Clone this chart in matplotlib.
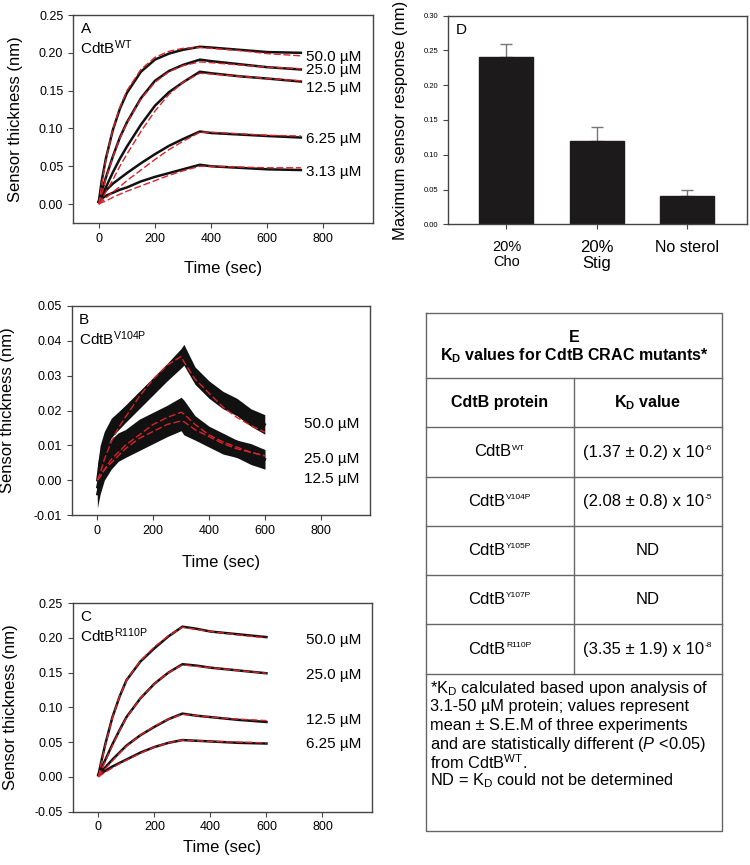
import matplotlib
matplotlib.use("Agg")
import matplotlib.pyplot as plt
from matplotlib.offsetbox import TextArea, HPacker, AnnotationBbox

plt.rcParams['font.family'] = ['Liberation Sans', 'DejaVu Sans']
plt.rcParams['mathtext.fontset'] = 'custom'
plt.rcParams['mathtext.rm'] = 'Liberation Sans'
plt.rcParams['mathtext.it'] = 'Liberation Sans:italic'
plt.rcParams['mathtext.bf'] = 'Liberation Sans:bold'

# ---- panel A: CdtB WT ----
tA = [0, 10, 25, 50, 75, 100, 150, 200, 250, 300, 360, 400, 500, 600, 720]
concA = ["50.0 µM", "25.0 µM", "12.5 µM", "6.25 µM", "3.13 µM"]
concA_y = [0.195, 0.177, 0.153, 0.086, 0.042]
traceA = [
    [0.003, 0.030, 0.060, 0.098, 0.126, 0.147, 0.175, 0.191, 0.199, 0.204, 0.208, 0.207, 0.204, 0.201, 0.200],
    [0.003, 0.016, 0.035, 0.063, 0.088, 0.108, 0.140, 0.163, 0.176, 0.184, 0.191, 0.189, 0.185, 0.181, 0.178],
    [0.003, 0.010, 0.022, 0.042, 0.060, 0.076, 0.105, 0.130, 0.148, 0.161, 0.175, 0.173, 0.169, 0.166, 0.162],
    [0.003, 0.010, 0.018, 0.027, 0.034, 0.041, 0.054, 0.066, 0.077, 0.086, 0.096, 0.094, 0.092, 0.090, 0.088],
    [0.003, 0.007, 0.011, 0.015, 0.019, 0.022, 0.030, 0.036, 0.041, 0.046, 0.052, 0.050, 0.048, 0.046, 0.045],
]
fitA = [
    [0.0, 0.025, 0.058, 0.099, 0.128, 0.150, 0.178, 0.194, 0.202, 0.206, 0.207, 0.206, 0.203, 0.199, 0.196],
    [0.0, 0.014, 0.033, 0.062, 0.087, 0.107, 0.139, 0.161, 0.175, 0.183, 0.188, 0.187, 0.184, 0.181, 0.179],
    [0.0, 0.006, 0.016, 0.032, 0.050, 0.066, 0.096, 0.123, 0.145, 0.161, 0.173, 0.172, 0.169, 0.166, 0.163],
    [0.0, 0.003, 0.008, 0.016, 0.023, 0.031, 0.045, 0.059, 0.072, 0.083, 0.095, 0.095, 0.093, 0.091, 0.090],
    [0.0, 0.002, 0.004, 0.009, 0.013, 0.017, 0.024, 0.031, 0.038, 0.044, 0.050, 0.050, 0.049, 0.048, 0.048],
]

# ---- panel B: CdtB V104P (noisy, drawn as centre + band) ----
tB = [0, 10, 25, 50, 75, 100, 150, 200, 250, 300, 310, 350, 400, 450, 500, 550, 600]
concB = ["50.0 µM", "25.0 µM", "12.5 µM"]
concB_y = [0.016, 0.006, 0.0003]
traceB = [
    [0.000, 0.006, 0.011, 0.015, 0.017, 0.019, 0.023, 0.027, 0.031, 0.035, 0.036, 0.030, 0.026, 0.023, 0.021, 0.018, 0.016],
    [-0.002, 0.002, 0.006, 0.009, 0.011, 0.012, 0.015, 0.017, 0.019, 0.021, 0.020, 0.016, 0.013, 0.011, 0.009, 0.008, 0.006],
    [-0.004, 0.000, 0.003, 0.006, 0.008, 0.009, 0.011, 0.013, 0.015, 0.017, 0.016, 0.014, 0.012, 0.010, 0.009, 0.007, 0.006],
]
noiseB = [0.004, 0.004, 0.003, 0.0028, 0.0026, 0.0025, 0.0025, 0.0025, 0.0025, 0.0028, 0.003, 0.0025, 0.0025, 0.0025, 0.0025, 0.0025, 0.0028]
fitB = [
    [0.0, 0.002, 0.006, 0.011, 0.015, 0.018, 0.024, 0.029, 0.033, 0.0355, 0.034, 0.029, 0.025, 0.021, 0.018, 0.0157, 0.0138],
    [0.0, 0.001, 0.003, 0.006, 0.008, 0.010, 0.013, 0.016, 0.018, 0.0195, 0.019, 0.016, 0.013, 0.011, 0.0095, 0.008, 0.007],
    [0.0, 0.001, 0.003, 0.005, 0.007, 0.009, 0.012, 0.014, 0.016, 0.017, 0.0168, 0.0145, 0.0125, 0.0105, 0.009, 0.008, 0.007],
]

# ---- panel C: CdtB R110P ----
tC = [0, 10, 25, 50, 75, 100, 150, 200, 250, 300, 350, 400, 500, 600]
concC = ["50.0 µM", "25.0 µM", "12.5 µM", "6.25 µM"]
concC_y = [0.197, 0.146, 0.082, 0.048]
traceC = [
    [0.003, 0.022, 0.048, 0.086, 0.115, 0.139, 0.166, 0.185, 0.202, 0.216, 0.213, 0.209, 0.205, 0.201],
    [0.003, 0.012, 0.025, 0.047, 0.067, 0.086, 0.113, 0.134, 0.150, 0.162, 0.160, 0.157, 0.153, 0.149],
    [0.003, 0.008, 0.014, 0.025, 0.035, 0.045, 0.060, 0.072, 0.083, 0.091, 0.088, 0.086, 0.082, 0.079],
    [0.002, 0.005, 0.009, 0.015, 0.020, 0.025, 0.035, 0.043, 0.049, 0.053, 0.052, 0.051, 0.049, 0.048],
]
fitC = [
    [0.0, 0.020, 0.046, 0.085, 0.115, 0.139, 0.167, 0.187, 0.203, 0.215, 0.212, 0.209, 0.204, 0.200],
    [0.0, 0.010, 0.023, 0.045, 0.066, 0.085, 0.113, 0.134, 0.150, 0.161, 0.159, 0.157, 0.153, 0.149],
    [0.0, 0.006, 0.012, 0.023, 0.034, 0.044, 0.060, 0.073, 0.083, 0.090, 0.088, 0.086, 0.083, 0.081],
    [0.0, 0.003, 0.007, 0.013, 0.019, 0.024, 0.034, 0.043, 0.049, 0.053, 0.052, 0.051, 0.050, 0.049],
]

# ---- panel D ----
sterols = ["20%\nCho", "20%\nStig", "No sterol"]
max_resp = [0.24, 0.12, 0.04]
max_err = [0.02, 0.02, 0.01]

# ---- table E ----
proteins = ["CdtB"] * 5
protein_sup = ["WT", "V104P", "Y105P", "Y107P", "R110P"]
kd_values = ["(1.37 ± 0.2) x 10", "(2.08 ± 0.8) x 10", "ND", "ND", "(3.35 ± 1.9) x 10"]
kd_sup = ["-6", "-5", "", "", "-8"]
footnote = [r"*K$_{\rm D}$ calculated based upon analysis of",
            "3.1-50 µM protein; values represent",
            "mean ± S.E.M of three experiments",
            r"and are statistically different ($P$ <0.05)",
            r"from CdtB$^{\rm WT}$.",
            r"ND = K$_{\rm D}$ could not be determined"]

W, H = 750, 865
RED = '#d8232a'
SPINE = '#444444'


def px_axes(fig, left, top, right, bottom):
    return fig.add_axes([left / W, 1 - bottom / H, (right - left) / W, (bottom - top) / H])


def style_axes(ax, tick_size):
    for s in ax.spines.values():
        s.set_color(SPINE)
        s.set_linewidth(1.0)
    ax.tick_params(direction='out', length=3.5, width=0.8, color=SPINE,
                   labelsize=tick_size, top=False, right=False)


def kinetics_panel(ax, t, traces, fits, labels, label_y, letter, mutant,
                   ylim, yticks, ylab_x, xlab_y):
    for tr in traces:
        ax.plot(t, tr, color='#111111', lw=1.8, solid_joinstyle='round')
    for ft in fits:
        ax.plot(t, ft, color=RED, lw=1.0, ls=(0, (5, 2)))
    for lab, y in zip(labels, label_y):
        ax.text(740, y, lab, fontsize=11, va='center', ha='left')
    ax.text(0.025, 0.965, letter, transform=ax.transAxes, fontsize=11, va='top')
    ax.text(0.025, 0.845, mutant, transform=ax.transAxes, fontsize=11, va='center')
    ax.set_xlim(-92, 977)
    ax.set_ylim(*ylim)
    ax.set_xticks([0, 200, 400, 600, 800])
    ax.set_yticks(yticks)
    ax.set_yticklabels(["%.2f" % v for v in yticks])
    style_axes(ax, 9)
    ax.set_ylabel("Sensor thickness (nm)", fontsize=12)
    ax.yaxis.set_label_coords(ylab_x, 0.5)
    ax.set_xlabel("Time (sec)", fontsize=12)
    ax.xaxis.set_label_coords(0.5, xlab_y)


def sup_text(ax, x, y, base, sup, fs, sfs):
    kids = [TextArea(base, textprops=dict(fontsize=fs))]
    if sup:
        kids.append(TextArea(sup, textprops=dict(fontsize=sfs)))
    box = HPacker(children=kids, align='top', pad=0, sep=0.5)
    ab = AnnotationBbox(box, (x, y), xycoords='data', frameon=False,
                        box_alignment=(0.5, 0.5), pad=0)
    ax.add_artist(ab)


fig = plt.figure(figsize=(W / 100, H / 100), dpi=100)

# A
axA = px_axes(fig, 73, 15, 373, 223)
kinetics_panel(axA, tA, traceA, fitA, concA, concA_y, "A", r"CdtB$^{\rm WT}$",
               (-0.025, 0.25), [0.0, 0.05, 0.10, 0.15, 0.20, 0.25], -0.167, -0.185)

# B
axB = px_axes(fig, 71.7, 306, 370, 515)
for tr in traceB:
    lo = [v - n for v, n in zip(tr, noiseB)]
    hi = [v + n for v, n in zip(tr, noiseB)]
    axB.fill_between(tB, lo, hi, color='#111111', lw=0)
kinetics_panel(axB, tB, traceB, fitB, concB, concB_y, "B", r"CdtB$^{\rm V104P}$",
               (-0.01, 0.05), [-0.01, 0.0, 0.01, 0.02, 0.03, 0.04, 0.05], -0.19, -0.19)

# C
axC = px_axes(fig, 72.7, 603, 372, 811.7)
kinetics_panel(axC, tC, traceC, fitC, concC, concC_y, "C", r"CdtB$^{\rm R110P}$",
               (-0.05, 0.25), [-0.05, 0.0, 0.05, 0.10, 0.15, 0.20, 0.25], -0.182, -0.137)

# D
axD = px_axes(fig, 448.3, 15.7, 746.7, 224.3)
xpos = list(range(len(sterols)))
axD.bar(xpos, max_resp, width=0.6, color='#1c1a1a', edgecolor='#1c1a1a', zorder=2)
axD.errorbar(xpos, max_resp, yerr=[[0] * len(max_err), max_err], fmt='none',
             ecolor='#777777', elinewidth=1.0, capsize=4, capthick=1.0, zorder=1)
axD.set_xlim(-0.645, 2.665)
axD.set_ylim(0, 0.30)
dticks = [0, 0.05, 0.10, 0.15, 0.20, 0.25, 0.30]
axD.set_yticks(dticks)
axD.set_yticklabels(["%.2f" % v for v in dticks])
axD.set_xticks(xpos)
axD.set_xticklabels([])
style_axes(axD, 5.5)
tick_fs = [10.5, 12, 11.5]
for x, lab, fs in zip(xpos, sterols, tick_fs):
    axD.text(x, -0.022, lab, fontsize=fs, ha='center', va='top', linespacing=1.1)
axD.text(0.025, 0.965, "D", transform=axD.transAxes, fontsize=11, va='top')
axD.set_ylabel("Maximum sensor response (nm)", fontsize=12)
axD.yaxis.set_label_coords(-0.134, 0.5)

# E: table drawn on a full-figure overlay in pixel coordinates
axE = fig.add_axes([0, 0, 1, 1])
axE.set_xlim(0, W)
axE.set_ylim(H, 0)
axE.axis('off')
tl, tr_, tt, tb = 426, 721.7, 312.7, 831
colx = 573.7
hlines = [378.3, 427.3, 476.7, 526, 575, 624.3, 674]
LC = '#666666'
axE.plot([tl, tr_, tr_, tl, tl], [tt, tt, tb, tb, tt], color=LC, lw=1.0)
for y in hlines:
    axE.plot([tl, tr_], [y, y], color=LC, lw=1.0)
axE.plot([colx, colx], [hlines[0], hlines[-1]], color=LC, lw=1.0)

cx = (tl + tr_) / 2
axE.text(cx, 337, "E", fontsize=11.5, fontweight='bold', ha='center', va='center')
axE.text(cx, 356, r"K$_{\mathbf{D}}$ values for CdtB CRAC mutants*", fontsize=11.5,
         fontweight='bold', ha='center', va='center')
c1 = (tl + colx) / 2
c2 = (colx + tr_) / 2
axE.text(c1, 403, "CdtB protein", fontsize=11.5, fontweight='bold', ha='center', va='center')
axE.text(c2, 403, r"K$_{\mathbf{D}}$ value", fontsize=11.5, fontweight='bold', ha='center', va='center')
for i in range(len(proteins)):
    yc = (hlines[i + 1] + hlines[i + 2]) / 2
    sup_text(axE, c1, yc, proteins[i], protein_sup[i], 12, 6)
    sup_text(axE, c2, yc, kd_values[i], kd_sup[i], 12, 6)
for i, line in enumerate(footnote):
    axE.text(430, 688.5 + i * 18.5, line, fontsize=11.8, ha='left', va='center')

fig.savefig("out.png", dpi=100)
